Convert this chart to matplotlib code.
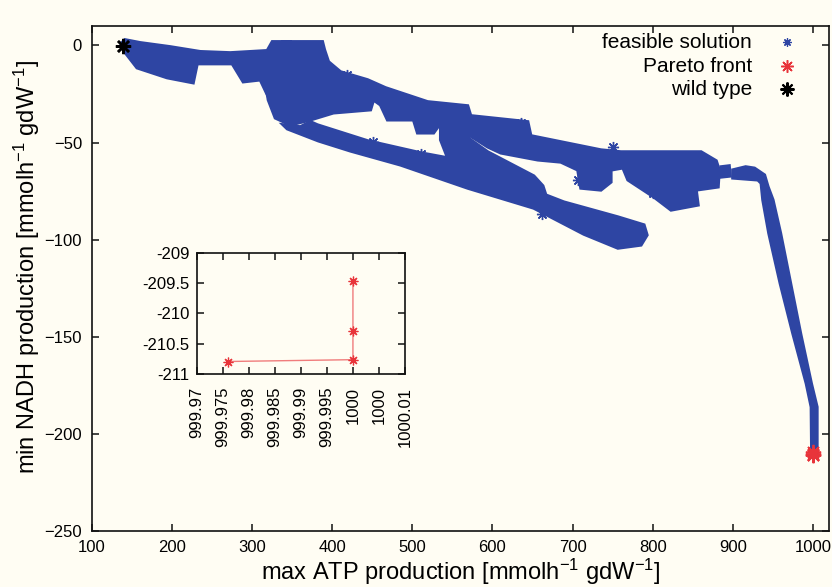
import matplotlib
matplotlib.use("Agg")
import matplotlib.pyplot as plt
from matplotlib.lines import Line2D

plt.rcParams["font.family"] = ["Liberation Sans", "DejaVu Sans"]
plt.rcParams["mathtext.fontset"] = "custom"
plt.rcParams["mathtext.rm"] = "Liberation Sans"
plt.rcParams["mathtext.default"] = "regular"

# feasible solutions: outlines of the dense point cloud
wedge_x = [136.6, 141.6, 160.4, 197.9, 235.4, 272.9, 319.1, 325.4, 347.9, 347.9,
           329.1, 320.4, 310.4, 289.1, 275.4, 231.6, 226.6, 194.1, 156.6, 139.1]
wedge_y = [0.9, 2.9, 1.4, -0.7, -3.2, -3.8, -2.7, 1.9, 1.9, -25.4,
           -33.1, -26.4, -17.7, -18.7, -9.4, -9.4, -19.2, -16.6, -11.5, -2.2]

upper_x = [316.6, 335.4, 337.9, 387.9, 390.4, 395.4, 410.4, 444.2, 466.6, 519.1,
           569.1, 572.9, 644.1, 647.9, 735.4, 760.4, 860.4, 879.2, 882.9, 881.6,
           854.2, 856.6, 822.9, 801.6, 769.1, 762.9, 747.9, 747.9, 735.4, 710.4,
           706.6, 685.4, 656.6, 610.4, 594.1, 566.6, 535.4, 526.6, 506.6, 501.6,
           469.1, 460.4, 451.6, 447.9, 401.6, 372.9, 347.9, 329.1, 320.4, 316.6]
upper_y = [-4.8, -2.2, 1.9, 1.9, -2.2, -8.4, -13.6, -17.7, -21.8, -29.0,
           -31.1, -36.2, -39.3, -46.5, -53.8, -54.8, -54.8, -59.4, -64.1, -72.8,
           -74.4, -82.1, -84.7, -78.0, -69.2, -63.0, -64.1, -70.3, -74.4, -73.4,
           -64.1, -60.0, -58.9, -55.3, -52.2, -45.0, -39.9, -45.0, -45.0, -38.3,
           -38.3, -30.6, -28.0, -33.1, -34.7, -38.3, -40.9, -37.3, -28.0, -17.7]

lower_x = [339.1, 360.4, 372.9, 381.6, 444.2, 510.4, 544.2, 535.4, 535.4, 556.6,
           572.9, 594.1, 651.6, 662.9, 666.6, 689.1, 756.6, 789.1, 792.9,
           785.4, 756.6, 714.1, 651.6, 569.1, 485.4, 422.9, 382.9, 344.1]
lower_y = [-40.9, -41.9, -39.3, -40.9, -49.1, -55.3, -57.9, -48.6, -39.9, -41.9,
           -48.6, -54.8, -67.2, -72.3, -77.0, -80.6, -88.3, -92.4, -97.6,
           -102.7, -104.3, -97.1, -83.7, -73.4, -61.5, -54.3, -49.1, -42.9]

blob_x = [885.4, 895.4, 896.6, 885.4]
blob_y = [-62.5, -62.0, -67.2, -67.7]

tail_x = [900.0, 916.0, 927.0, 939.5, 943.8, 950.0, 959.5, 972.0, 984.5, 997.9, 1005.0,
          1005.0, 998.5, 997.9, 991.7, 975.0, 959.2, 945.0, 937.5, 935.4, 931.3, 900.0]
tail_y = [-64.1, -62.5, -63.2, -66.7, -72.7, -79.5, -96.7, -122.5, -148.3, -174.0, -186.1,
          -211.0, -211.0, -186.1, -174.0, -148.3, -122.5, -96.7, -79.5, -70.9, -69.2, -68.2]

# a few isolated feasible points sticking out of the cloud
feas_x = [418.8, 451.6, 510.4, 635.4, 706.6, 800.4, 662.0, 750.0]
feas_y = [-15.1, -49.6, -55.8, -39.9, -69.2, -75.9, -87.0, -52.5]

# Pareto front and wild type
pareto_x = [999.976, 1000.0, 1000.0, 1000.0]
pareto_y = [-210.79, -210.76, -210.29, -209.47]
wild_x = [139.5]
wild_y = [-0.3]

x_ticks = [100, 200, 300, 400, 500, 600, 700, 800, 900, 1000]
y_ticks = [-250, -200, -150, -100, -50, 0]
inset_xticks = [999.97, 999.975, 999.98, 999.985, 999.99, 999.995, 1000.0, 1000.005, 1000.01]
inset_xlabels = ["999.97", "999.975", "999.98", "999.985", "999.99", "999.995", "1000", "1000", "1000.01"]
inset_yticks = [-211, -210.5, -210, -209.5, -209]
inset_ylabels = ["-211", "-210.5", "-210", "-209.5", "-209"]

bg = "#fffdf3"
blue = "#2e45a3"
red = "#e8343a"
pink = "#f07c7c"
ast = (8, 2, 0)  # gnuplot style asterisk (+ and x)

fig = plt.figure(figsize=(8.32, 5.87), dpi=100, facecolor=bg)
ax = fig.add_axes([0.1102, 0.0951, 0.8862, 0.8606], facecolor=bg)

for xs, ys in [(wedge_x, wedge_y), (upper_x, upper_y), (lower_x, lower_y),
               (blob_x, blob_y), (tail_x, tail_y)]:
    ax.fill(xs, ys, color=blue, lw=2.4, ec=blue, zorder=2)
ax.plot(feas_x, feas_y, ls="none", marker=ast, ms=8, mew=1.0, color=blue, zorder=2)

ax.plot(pareto_x, pareto_y, ls="none", marker=ast, ms=11, mew=1.3, color=red, zorder=3)
ax.plot(wild_x, wild_y, ls="none", marker=ast, ms=11, mew=1.8, color="black", zorder=4)

ax.set_xlim(100, 1020)
ax.set_ylim(-250, 10)
ax.set_xticks(x_ticks)
ax.set_yticks(y_ticks)
ax.tick_params(direction="in", length=5, width=1.1, top=True, right=True,
               labelsize=12, color="#111111")
ax.tick_params(axis="x", pad=6)
ax.tick_params(axis="y", pad=7)
for s in ax.spines.values():
    s.set_linewidth(1.2)
    s.set_color("#111111")

ax.set_xlabel("max ATP production [mmolh$^{-1}$ gdW$^{-1}$]", fontsize=17)
ax.set_ylabel("min NADH production [mmolh$^{-1}$ gdW$^{-1}$]", fontsize=17)
ax.xaxis.set_label_coords(0.5, -0.051)
ax.yaxis.set_label_coords(-0.068, 0.523)

# key, gnuplot style: right aligned text, sample to the right
key = [("feasible solution", blue, 6, 0.9, 0.9557),
       ("Pareto front", red, 9, 1.1, 0.9092),
       ("wild type", "black", 10, 1.5, 0.8626)]
for label, c, ms, mew, yb in key:
    ax.text(0.8956, yb, label, transform=ax.transAxes, ha="right", va="baseline",
            fontsize=15)
    ax.add_line(Line2D([0.943], [yb + 0.012], transform=ax.transAxes, ls="none",
                       marker=ast, ms=ms, mew=mew, color=c, clip_on=False))

# inset: zoom on the Pareto front
axi = fig.add_axes([0.2364, 0.3624, 0.2504, 0.2072], facecolor=bg)
axi.plot(pareto_x, pareto_y, color=pink, lw=1.0, marker=ast, ms=7,
         mew=0.9, mec=red)
axi.set_xlim(999.97, 1000.01)
axi.set_ylim(-211, -209)
axi.set_xticks(inset_xticks)
axi.set_xticklabels(inset_xlabels, rotation=90)
axi.set_yticks(inset_yticks)
axi.set_yticklabels(inset_ylabels)
axi.tick_params(direction="in", length=5, width=1.1, top=True, right=True,
                labelsize=12, color="#111111")
axi.tick_params(axis="x", pad=9)
axi.tick_params(axis="y", pad=5)
for s in axi.spines.values():
    s.set_linewidth(1.2)
    s.set_color("#111111")

fig.savefig("out.png", dpi=100, facecolor=bg)
